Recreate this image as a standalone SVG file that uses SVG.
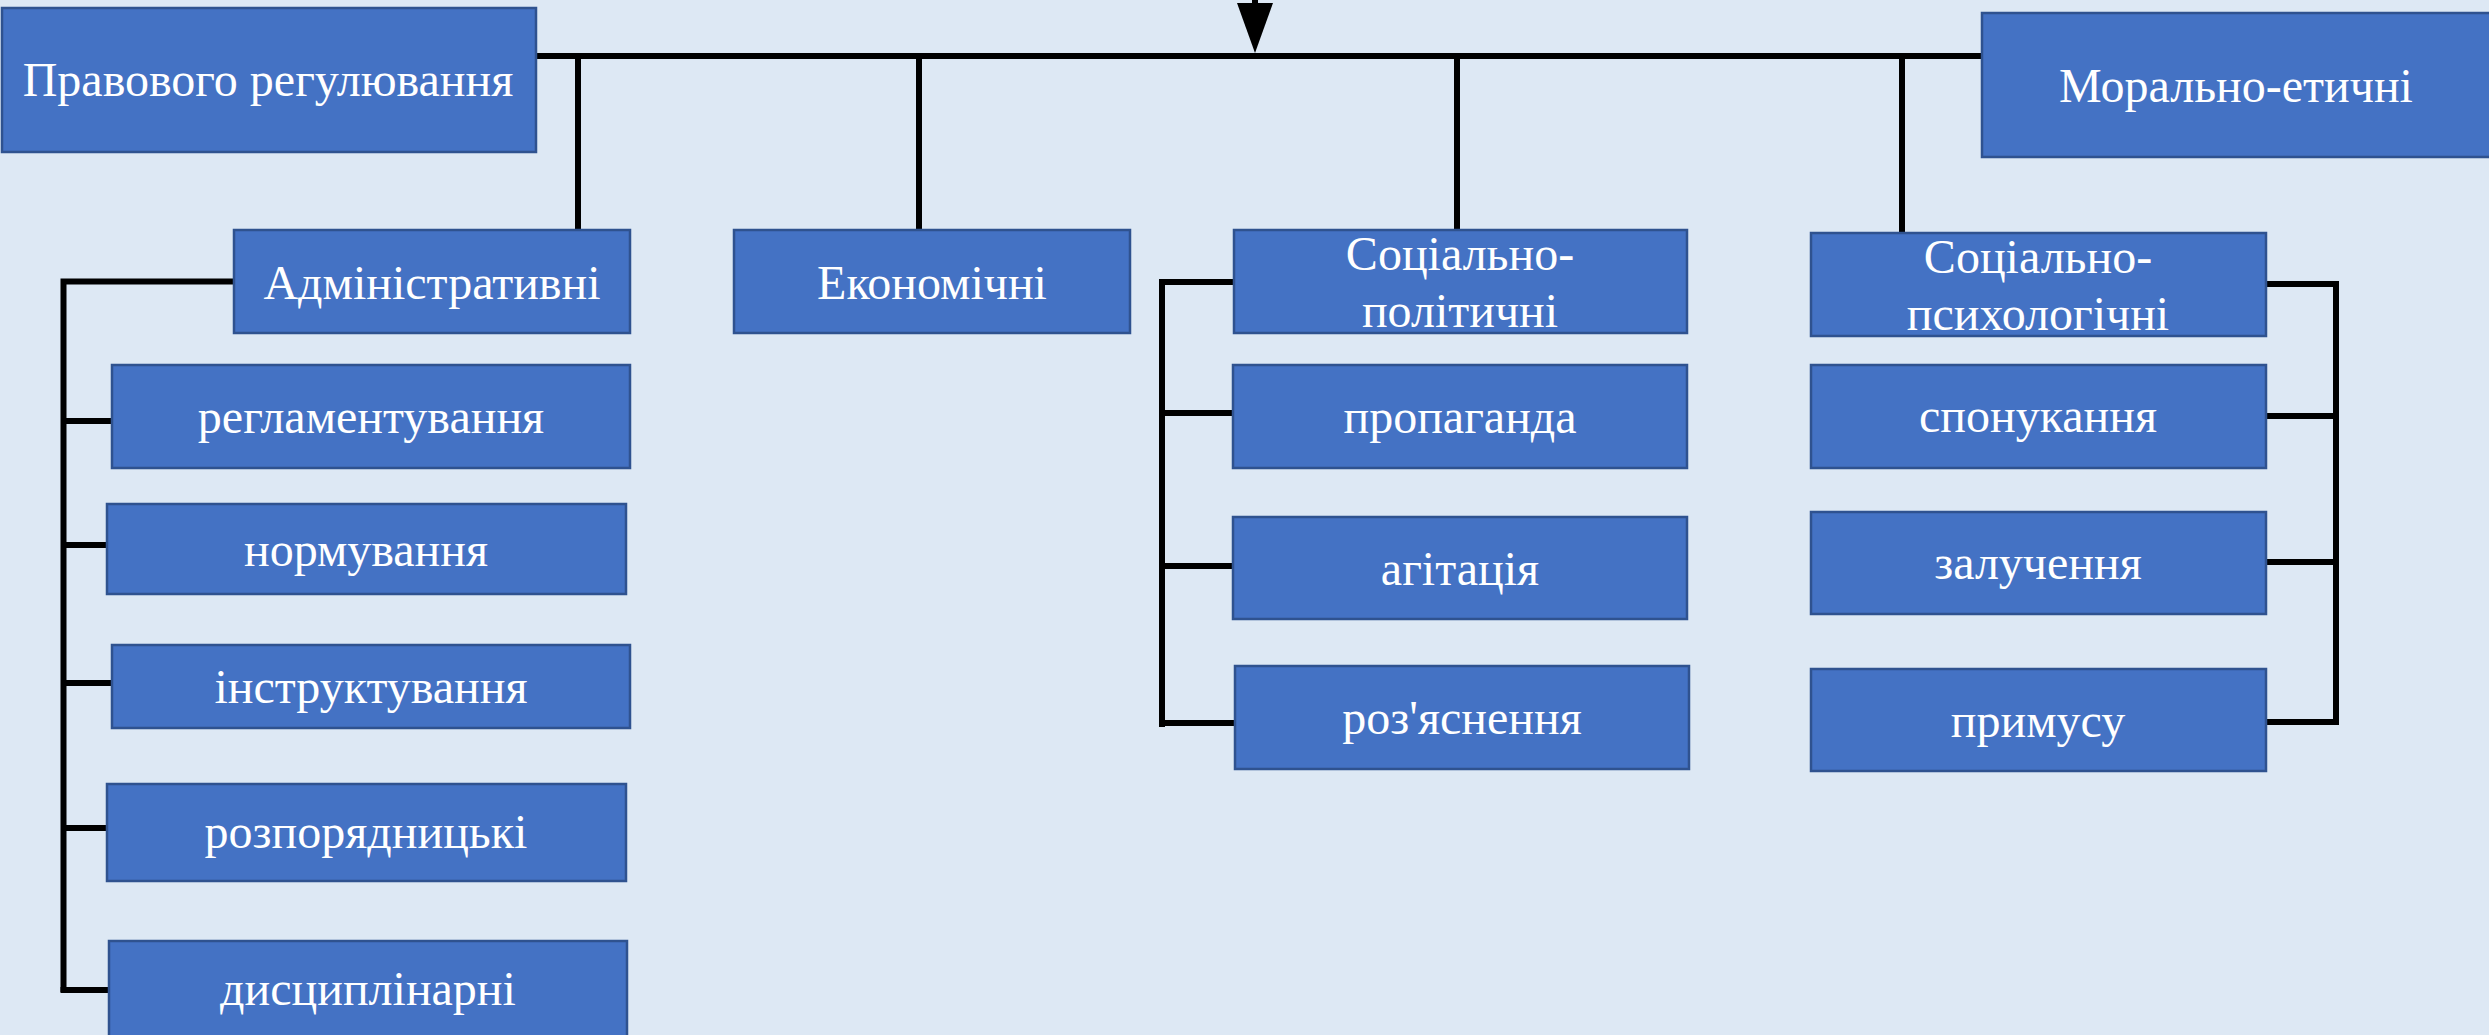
<svg xmlns="http://www.w3.org/2000/svg" width="2489" height="1035" viewBox="0 0 2489 1035">
<defs>
<style>
.box{fill:#4472C4;stroke:#2F528F;stroke-width:2.5}
.t{font-family:"Liberation Serif","Times New Roman",serif;font-size:48px;fill:#FFFFFF;text-anchor:middle}
.c{fill:none;stroke:#000000;stroke-width:6}
</style>
<marker id="arr" markerUnits="userSpaceOnUse" viewBox="0 -18 50 36" refX="0" refY="0" markerWidth="50" markerHeight="36" orient="auto">
<path d="M0,-18 L50,0 L0,18 Z" fill="#000000"/>
</marker>
</defs>
<rect x="0" y="0" width="2489" height="1035" fill="#DDE8F4"/>
<g id="connectors">
<path class="c" d="M1255 -5 V3" stroke-width="8" marker-end="url(#arr)"/>
<path class="c" d="M536 56 H1981"/>
<path class="c" d="M578 56 V229"/>
<path class="c" d="M919 56 V229"/>
<path class="c" d="M1457 56 V229"/>
<path class="c" d="M1902 56 V232"/>
<path class="c" d="M233 281.5 H63.5 V992"/>
<path class="c" d="M63 421 H111"/>
<path class="c" d="M63 545 H106"/>
<path class="c" d="M63 683 H111"/>
<path class="c" d="M63 828 H106"/>
<path class="c" d="M60.5 990 H108"/>
<path class="c" d="M1233 282 H1162" stroke-width="8"/>
<path class="c" d="M1162 279 V727"/>
<path class="c" d="M1162 413 H1232"/>
<path class="c" d="M1162 566 H1232"/>
<path class="c" d="M1159 723 H1234"/>
<path class="c" d="M2266 284 H2336 V723"/>
<path class="c" d="M2266 416 H2336"/>
<path class="c" d="M2266 562 H2336"/>
<path class="c" d="M2266 722 H2339"/>
</g>
<g id="pravovogo"><rect class="box" x="2" y="8" width="534" height="144"/><text class="t" x="268" y="96">Правового регулювання</text></g>
<g id="moralno"><rect class="box" x="1982" y="13" width="520" height="144"/><text class="t" x="2236" y="102">Морально-етичні</text></g>
<g id="admin"><rect class="box" x="234" y="230" width="396" height="103"/><text class="t" x="432" y="299">Адміністративні</text></g>
<g id="ekonom"><rect class="box" x="734" y="230" width="396" height="103"/><text class="t" x="932" y="299">Економічні</text></g>
<g id="sotspol"><rect class="box" x="1234" y="230" width="453" height="103"/><text class="t" x="1460" y="270">Соціально-</text><text class="t" x="1460" y="327">політичні</text></g>
<g id="sotspsy"><rect class="box" x="1811" y="233" width="455" height="103"/><text class="t" x="2038" y="273">Соціально-</text><text class="t" x="2038" y="330">психологічні</text></g>
<g id="reglam"><rect class="box" x="112" y="365" width="518" height="103"/><text class="t" x="371" y="433">регламентування</text></g>
<g id="normuv"><rect class="box" x="107" y="504" width="519" height="90"/><text class="t" x="366" y="566">нормування</text></g>
<g id="instr"><rect class="box" x="112" y="645" width="518" height="83"/><text class="t" x="371" y="703">інструктування</text></g>
<g id="rozpor"><rect class="box" x="107" y="784" width="519" height="97"/><text class="t" x="366" y="848">розпорядницькі</text></g>
<g id="dysc"><rect class="box" x="109" y="941" width="518" height="100"/><text class="t" x="368" y="1005">дисциплінарні</text></g>
<g id="propag"><rect class="box" x="1233" y="365" width="454" height="103"/><text class="t" x="1460" y="433">пропаганда</text></g>
<g id="agit"><rect class="box" x="1233" y="517" width="454" height="102"/><text class="t" x="1460" y="585">агітація</text></g>
<g id="rozyasn"><rect class="box" x="1235" y="666" width="454" height="103"/><text class="t" x="1462" y="734">роз'яснення</text></g>
<g id="sponuk"><rect class="box" x="1811" y="365" width="455" height="103"/><text class="t" x="2038" y="432">спонукання</text></g>
<g id="zaluch"><rect class="box" x="1811" y="512" width="455" height="102"/><text class="t" x="2038" y="579">залучення</text></g>
<g id="prymus"><rect class="box" x="1811" y="669" width="455" height="102"/><text class="t" x="2038" y="737">примусу</text></g>
</svg>
